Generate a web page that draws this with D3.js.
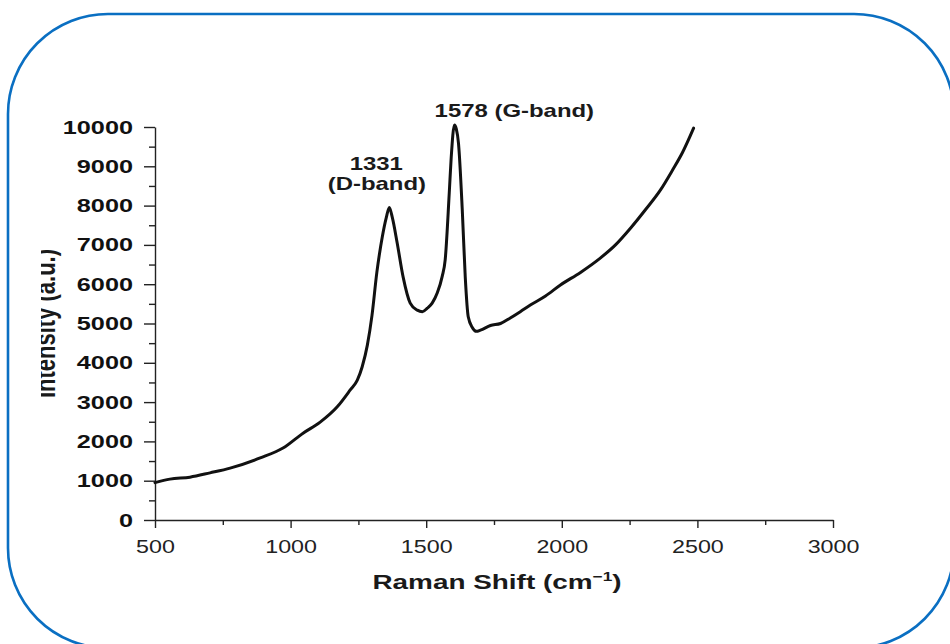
<!DOCTYPE html>
<html>
<head>
<meta charset="utf-8">
<script src="https://cdn.jsdelivr.net/npm/d3@7"></script>
<style>
  body { margin: 0; background: #fff; }
  svg { display: block; }
  text { font-family: "Liberation Sans", Arial, sans-serif; fill: #1a1a1a; }
</style>
</head>
<body>
<svg id="chart" width="950" height="644"></svg>
<script>
// raman shift (cm-1) and intensity
var shift = [500, 555, 629, 703, 777, 888, 972, 1046, 1109, 1172, 1220, 1246, 1264, 1283, 1300,
             1318, 1338, 1353, 1364, 1375, 1393, 1415, 1441, 1467, 1486, 1504, 1522, 1541, 1559,
             1570, 1585, 1592, 1604, 1611, 1619, 1633, 1644, 1655, 1670, 1685, 1700, 1737, 1774,
             1810, 1847, 1884, 1940, 1995, 2069, 2143, 2198, 2254, 2309, 2364, 2408, 2445, 2486];
var intensity = [950, 1040, 1090, 1200, 1320, 1580, 1830, 2210, 2490, 2880, 3310, 3560, 3900, 4450, 5200,
                 6300, 7200, 7700, 7950, 7700, 7050, 6180, 5520, 5340, 5300, 5390, 5520, 5780, 6200,
                 6620, 8320, 9200, 10050, 9950, 9590, 7890, 6180, 5170, 4900, 4800, 4830, 4950, 5000,
                 5140, 5300, 5470, 5700, 5980, 6300, 6670, 7000, 7430, 7900, 8400, 8900, 9350, 9970];

// tick values
var xTicks = [500, 1000, 1500, 2000, 2500, 3000];
var xMinor = [750, 1250, 1750, 2250, 2750];
var yTicks = [0, 1000, 2000, 3000, 4000, 5000, 6000, 7000, 8000, 9000, 10000];
var yMinor = [500, 1500, 2500, 3500, 4500, 5500, 6500, 7500, 8500, 9500];

// peak labels (positions in data units)
var labelText = ["1578 (G-band)", "1331", "(D-band)"];
var labelX = [1825, 1316, 1318];
var labelY = [10250, 8900, 8390];

var svg = d3.select("#chart");
var stretch = 1.33;

// rounded frame
svg.append("rect")
    .attr("x", 8).attr("y", 14)
    .attr("width", 946).attr("height", 634)
    .attr("rx", 100).attr("ry", 100)
    .attr("fill", "none")
    .attr("stroke", "#0a6fc2")
    .attr("stroke-width", 2.6);

var x = d3.scaleLinear().domain([500, 3000]).range([155, 833]),
    y = d3.scaleLinear().domain([0, 10000]).range([520, 127]);

// y axis, minor ticks first
svg.append("g")
    .attr("transform", "translate(155,0)")
    .call(d3.axisLeft(y).tickValues(yMinor).tickSize(6).tickFormat(""))
    .call(function(g) { g.select(".domain").remove(); });

var yAxis = svg.append("g")
    .attr("transform", "translate(155,0)")
    .call(d3.axisLeft(y).tickValues(yTicks).tickSize(11).tickSizeOuter(0).tickFormat(d3.format("d")));

yAxis.selectAll("text")
    .attr("x", 0)
    .attr("transform", "translate(-22,0) scale(" + stretch + ",1)")
    .style("font-size", "19px")
    .style("font-weight", "bold")
    .style("fill", "#111");

// x axis
svg.append("g")
    .attr("transform", "translate(0,520)")
    .call(d3.axisBottom(x).tickValues(xMinor).tickSize(5).tickFormat(""))
    .call(function(g) { g.select(".domain").remove(); });

var xAxis = svg.append("g")
    .attr("transform", "translate(0,520)")
    .call(d3.axisBottom(x).tickValues(xTicks).tickSize(8).tickSizeOuter(0).tickFormat(d3.format("d")));

xAxis.selectAll("text")
    .attr("y", 0)
    .attr("transform", "translate(0,20.5) scale(" + stretch + ",1)")
    .style("font-size", "17.5px")
    .style("fill", "#222");

svg.selectAll(".domain, .tick line")
    .attr("stroke", "#222")
    .attr("stroke-width", 1.4);

// spectrum
var pts = shift.map(function(s, i) { return [s, intensity[i]]; });
var line = d3.line()
    .curve(d3.curveMonotoneX)
    .x(function(d) { return x(d[0]); })
    .y(function(d) { return y(d[1]); });

svg.append("path")
    .datum(pts)
    .attr("d", line)
    .attr("fill", "none")
    .attr("stroke", "#111")
    .attr("stroke-width", 3)
    .attr("stroke-linejoin", "round")
    .attr("stroke-linecap", "round");

// peak labels
labelText.forEach(function(t, i) {
  svg.append("text")
      .attr("transform", "translate(" + x(labelX[i]) + "," + y(labelY[i]) + ") scale(" + stretch + ",1)")
      .attr("text-anchor", "middle")
      .style("font-size", "18px")
      .style("font-weight", "bold")
      .text(t);
});

// x title
var xt = svg.append("text")
    .attr("transform", "translate(497,589) scale(" + stretch + ",1)")
    .attr("text-anchor", "middle")
    .style("font-size", "21px")
    .style("font-weight", "bold");
xt.append("tspan").text("Raman Shift (cm");
xt.append("tspan").attr("dy", -8).style("font-size", "13px").text("\u22121");
xt.append("tspan").attr("dy", 8).text(")");

// y title, clipped on the left like the source image
svg.append("clipPath").attr("id", "yclip")
  .append("rect").attr("x", 41).attr("y", 0).attr("width", 60).attr("height", 644);

svg.append("g")
    .attr("clip-path", "url(#yclip)")
  .append("text")
    .attr("transform", "translate(55," + y(5000) + ") scale(" + stretch + ",1) rotate(-90)")
    .attr("text-anchor", "middle")
    .style("font-size", "22px")
    .style("font-weight", "bold")
    .text("Intensity (a.u.)");
</script>
</body>
</html>
